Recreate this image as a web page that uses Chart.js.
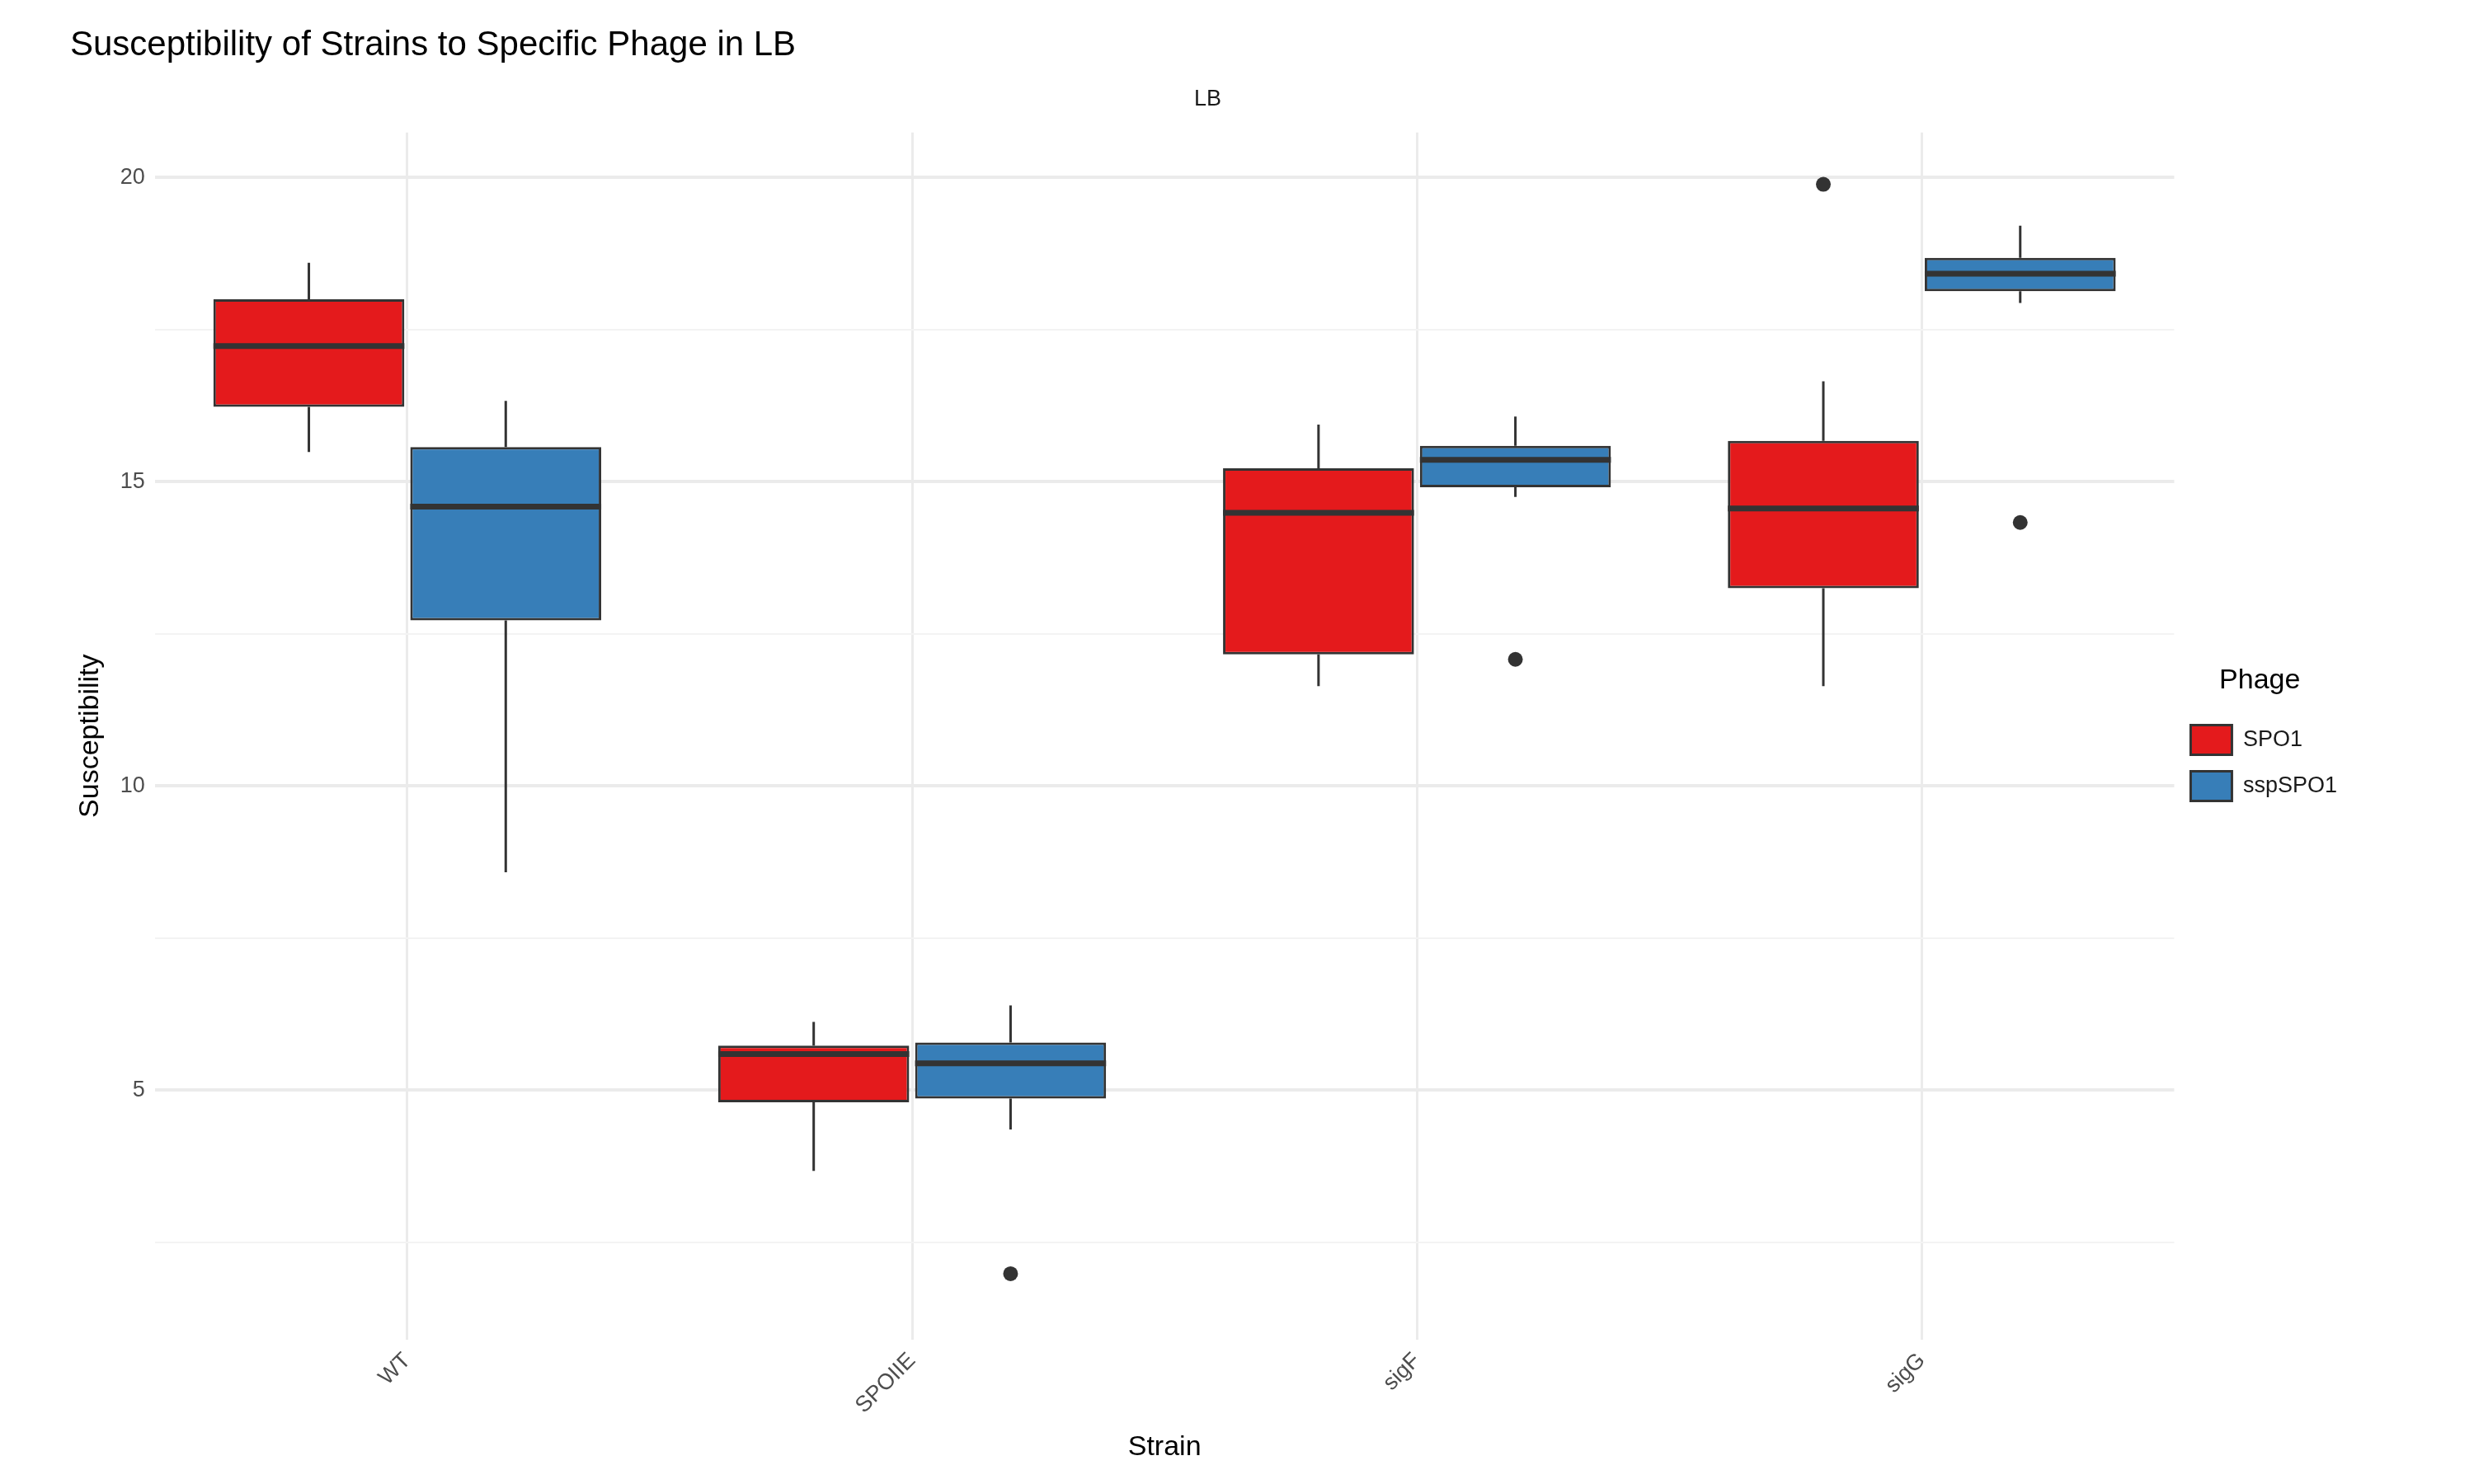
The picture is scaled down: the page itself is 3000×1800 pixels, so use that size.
<!DOCTYPE html>
<html>
<head>
<meta charset="utf-8">
<script src="https://cdn.jsdelivr.net/npm/chart.js@4"></script>
<style>
  body { margin: 0; background: #fff; }
  #wrap { width: 3000px; height: 1800px; }
</style>
</head>
<body>
<div id="wrap"><canvas id="mychart"></canvas></div>
<script>
'use strict';

var strains = ['WT', 'SPOIIE', 'sigF', 'sigG'];
var phages = ['SPO1', 'sspSPO1'];
var fills = ['#E41A1C', '#377EB8'];

// [low whisker, q1, median, q3, high whisker]
var spo1Stats = [
    [15.49, 16.23, 17.23, 18.0, 18.6],
    [3.67, 4.80, 5.59, 5.73, 6.12],
    [11.64, 12.16, 14.49, 15.22, 15.94],
    [11.64, 13.25, 14.56, 15.67, 16.65]
];
var sspStats = [
    [8.58, 12.72, 14.59, 15.57, 16.33],
    [4.35, 4.86, 5.44, 5.78, 6.39],
    [14.75, 14.91, 15.36, 15.59, 16.07],
    [17.94, 18.13, 18.42, 18.68, 19.21]
];
var spo1Outliers = [[], [], [], [19.89]];
var sspOutliers = [[], [1.98], [12.08], [14.33]];

var allStats = [spo1Stats, sspStats];
var allOutliers = [spo1Outliers, sspOutliers];

var boxPlugin = {
    id: 'boxParts',
    beforeDatasetsDraw: function (chart) {
        var ctx = chart.ctx, y = chart.scales.y;
        ctx.save();
        ctx.strokeStyle = '#333333';
        ctx.lineWidth = 3;
        allStats.forEach(function (stats, i) {
            chart.getDatasetMeta(i).data.forEach(function (bar, j) {
                var s = stats[j];
                ctx.beginPath();
                ctx.moveTo(bar.x, y.getPixelForValue(s[0]));
                ctx.lineTo(bar.x, y.getPixelForValue(s[1]));
                ctx.moveTo(bar.x, y.getPixelForValue(s[3]));
                ctx.lineTo(bar.x, y.getPixelForValue(s[4]));
                ctx.stroke();
            });
        });
        ctx.restore();
    },
    afterDatasetsDraw: function (chart) {
        var ctx = chart.ctx, y = chart.scales.y;
        ctx.save();
        ctx.strokeStyle = '#333333';
        ctx.fillStyle = '#333333';
        allStats.forEach(function (stats, i) {
            chart.getDatasetMeta(i).data.forEach(function (bar, j) {
                var half = bar.width / 2;
                var my = y.getPixelForValue(stats[j][2]);
                ctx.lineWidth = 7;
                ctx.beginPath();
                ctx.moveTo(bar.x - half, my);
                ctx.lineTo(bar.x + half, my);
                ctx.stroke();
                allOutliers[i][j].forEach(function (v) {
                    ctx.beginPath();
                    ctx.arc(bar.x, y.getPixelForValue(v), 9, 0, Math.PI * 2);
                    ctx.fill();
                });
            });
        });
        ctx.restore();
    }
};

var font = 'Liberation Sans, Arial, sans-serif';

new Chart(document.getElementById('mychart').getContext('2d'), {
    type: 'bar',
    data: {
        labels: strains,
        datasets: phages.map(function (p, i) {
            return {
                label: p,
                data: allStats[i].map(function (s) { return [s[1], s[3]]; }),
                backgroundColor: fills[i],
                borderColor: '#333333',
                borderWidth: 3,
                borderSkipped: false,
                categoryPercentage: 0.78,
                barPercentage: 0.97
            };
        })
    },
    options: {
        responsive: true,
        maintainAspectRatio: false,
        devicePixelRatio: 1,
        animation: false,
        layout: { padding: { left: 85, right: 156, top: 20, bottom: 20 } },
        plugins: {
            title: {
                display: true, text: 'Susceptibility of Strains to Specific Phage in LB',
                align: 'start', color: '#000', font: { family: font, size: 42, weight: 'normal' },
                padding: { top: 10, bottom: 24 }
            },
            subtitle: {
                display: true, text: 'LB', color: '#1a1a1a',
                font: { family: font, size: 27 }, padding: { bottom: 24 }
            },
            legend: {
                position: 'right',
                title: { display: true, text: 'Phage', color: '#000', font: { family: font, size: 34 }, padding: { bottom: 10 } },
                labels: { color: '#1a1a1a', font: { family: font, size: 27 }, boxWidth: 50, boxHeight: 36, padding: 20 }
            },
            tooltip: { enabled: false }
        },
        scales: {
            x: {
                grid: { color: '#ebebeb', lineWidth: 3, offset: false, drawTicks: false },
                border: { display: false },
                ticks: { color: '#4d4d4d', font: { family: font, size: 27 }, maxRotation: 45, minRotation: 45, padding: 10 },
                title: { display: true, text: 'Strain', color: '#000', font: { family: font, size: 34 } }
            },
            y: {
                min: 0.9, max: 20.74,
                afterBuildTicks: function (axis) {
                    axis.ticks = [2.5, 5, 7.5, 10, 12.5, 15, 17.5, 20].map(function (v) { return { value: v }; });
                },
                grid: {
                    drawTicks: false,
                    color: function (c) { return c.tick && c.tick.value % 5 === 0 ? '#ebebeb' : '#f3f3f3'; },
                    lineWidth: function (c) { return c.tick && c.tick.value % 5 === 0 ? 4 : 2; }
                },
                border: { display: false },
                ticks: {
                    color: '#4d4d4d', font: { family: font, size: 27 }, padding: 12,
                    callback: function (v) { return v % 5 === 0 ? v : ''; }
                },
                title: { display: true, text: 'Susceptibility', color: '#000', font: { family: font, size: 34 } }
            }
        }
    },
    plugins: [boxPlugin]
});
</script>
</body>
</html>
